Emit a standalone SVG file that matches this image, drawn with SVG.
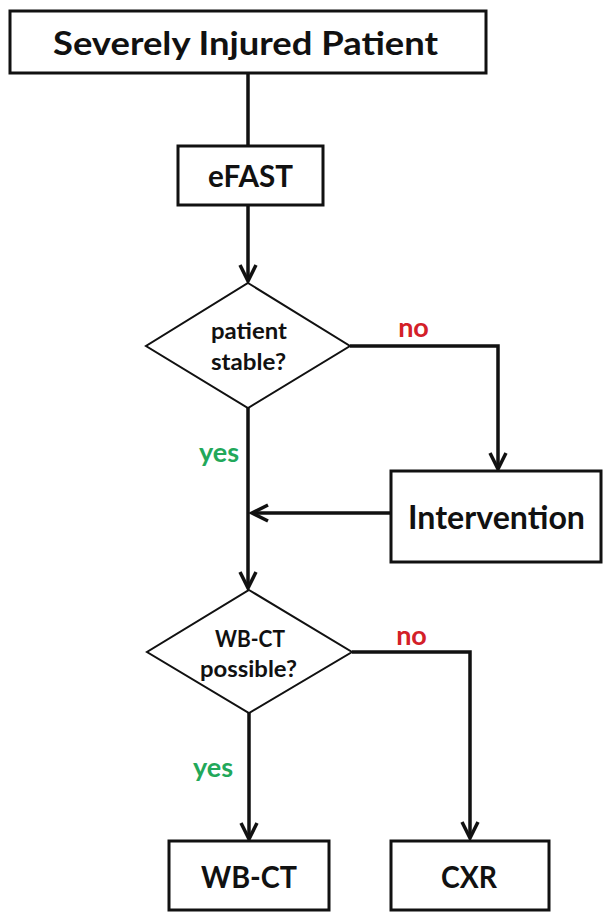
<svg xmlns="http://www.w3.org/2000/svg" width="603" height="912" viewBox="0 0 603 912">
<style>
  .box { fill: #ffffff; stroke: #111111; stroke-width: 3; }
  .dia { fill: #ffffff; stroke: #111111; stroke-width: 2; }
  .lbl { font-family: Lato, "Open Sans", "Liberation Sans", sans-serif; font-weight: 700; fill: #111111; text-anchor: middle; }
  .big { font-size: 33px; }
  .mid { font-size: 30px; }
  .small { font-size: 22px; }
  .yes { font-family: Lato, "Open Sans", "Liberation Sans", sans-serif; font-weight: 700; font-size: 27px; fill: #22a85a; text-anchor: middle; }
  .no { font-family: Lato, "Open Sans", "Liberation Sans", sans-serif; font-weight: 700; font-size: 27px; fill: #d32028; text-anchor: middle; }
  .conn { fill: none; stroke: #111111; stroke-width: 3.5; }
</style>
<defs>
  <marker id="arrow" markerUnits="userSpaceOnUse" markerWidth="40" markerHeight="40" refX="0" refY="0" orient="auto" overflow="visible">
    <path d="M-16,-8 L0,0 L-16,8" fill="none" stroke="#111111" stroke-width="3.5" stroke-linejoin="miter"/>
  </marker>
</defs>

<g id="connectors">
  <path class="conn" d="M248,73 V146"/>
  <path class="conn" d="M248,205 V281" marker-end="url(#arrow)"/>
  <path class="conn" d="M350,346 H498 V469" marker-end="url(#arrow)"/>
  <path class="conn" d="M248,408 V588" marker-end="url(#arrow)"/>
  <path class="conn" d="M391,513 H252" marker-end="url(#arrow)"/>
  <path class="conn" d="M352,652 H470 V838" marker-end="url(#arrow)"/>
  <path class="conn" d="M249,713 V839" marker-end="url(#arrow)"/>
  <text class="no" x="413.5" y="337">no</text>
  <text class="yes" x="219" y="462">yes</text>
  <text class="no" x="411.5" y="645">no</text>
  <text class="yes" x="213" y="777">yes</text>
</g>

<g id="severely-injured-patient">
  <rect class="box" x="10" y="11" width="476" height="62"/>
  <text class="lbl big" x="245.5" y="55" textLength="385" lengthAdjust="spacingAndGlyphs">Severely Injured Patient</text>
</g>

<g id="efast">
  <rect class="box" x="178" y="146" width="145" height="59"/>
  <text class="lbl mid" x="250.5" y="187" textLength="85" lengthAdjust="spacingAndGlyphs">eFAST</text>
</g>

<g id="patient-stable">
  <polygon class="dia" points="248,283 350,346 248,408 146,346"/>
  <text class="lbl small" x="249" y="339" textLength="76" lengthAdjust="spacingAndGlyphs">patient</text>
  <text class="lbl small" x="248.5" y="370" textLength="75" lengthAdjust="spacingAndGlyphs">stable?</text>
</g>

<g id="intervention">
  <rect class="box" x="391" y="471" width="210" height="91"/>
  <text class="lbl big" x="496.5" y="529" textLength="177" lengthAdjust="spacingAndGlyphs">Intervention</text>
</g>

<g id="wbct-possible">
  <polygon class="dia" points="249,590 352,652 249,713 147,652"/>
  <text class="lbl small" x="250" y="647" textLength="70" lengthAdjust="spacingAndGlyphs">WB-CT</text>
  <text class="lbl small" x="248.5" y="677" textLength="97" lengthAdjust="spacingAndGlyphs">possible?</text>
</g>

<g id="wbct">
  <rect class="box" x="169" y="841" width="160" height="69"/>
  <text class="lbl mid" x="249" y="888" textLength="96" lengthAdjust="spacingAndGlyphs">WB-CT</text>
</g>

<g id="cxr">
  <rect class="box" x="391" y="841" width="158" height="69"/>
  <text class="lbl mid" x="469" y="888" textLength="56" lengthAdjust="spacingAndGlyphs">CXR</text>
</g>
</svg>
